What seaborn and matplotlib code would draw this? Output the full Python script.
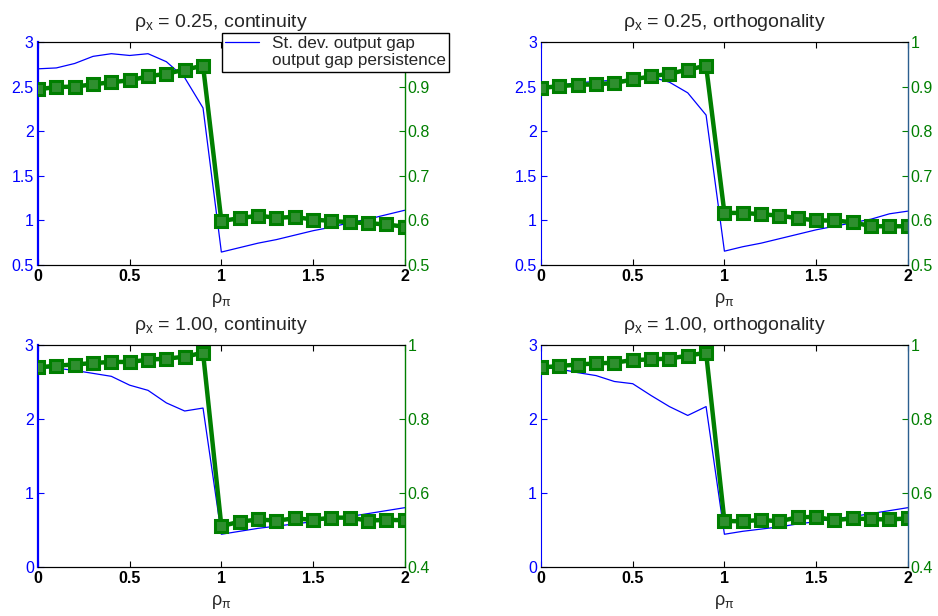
import numpy as np
import matplotlib
matplotlib.use("Agg")
import matplotlib.pyplot as plt
import seaborn as sns
from matplotlib.lines import Line2D

sns.set_style("ticks")
plt.rcParams["font.family"] = ["Liberation Sans", "DejaVu Sans"]
plt.rcParams["mathtext.fontset"] = "custom"
plt.rcParams["mathtext.rm"] = "Liberation Sans"
plt.rcParams["mathtext.it"] = "Liberation Sans"

rho_pi = [0.0, 0.1, 0.2, 0.3, 0.4, 0.5, 0.6, 0.7, 0.8, 0.9, 1.0,
          1.1, 1.2, 1.3, 1.4, 1.5, 1.6, 1.7, 1.8, 1.9, 2.0]

titles = [r"$\rho_x$ = 0.25, continuity", r"$\rho_x$ = 0.25, orthogonality",
          r"$\rho_x$ = 1.00, continuity", r"$\rho_x$ = 1.00, orthogonality"]

# st. dev. of output gap (left axis)
sd_025_cont = [2.70, 2.71, 2.76, 2.84, 2.87, 2.85, 2.87, 2.78, 2.60, 2.26, 0.64,
               0.69, 0.74, 0.78, 0.83, 0.88, 0.92, 0.97, 1.01, 1.06, 1.11]
sd_025_orth = [2.50, 2.52, 2.54, 2.56, 2.57, 2.58, 2.61, 2.55, 2.43, 2.18, 0.65,
               0.70, 0.74, 0.79, 0.84, 0.89, 0.93, 0.97, 1.01, 1.07, 1.10]
sd_100_cont = [2.70, 2.69, 2.66, 2.62, 2.58, 2.46, 2.39, 2.22, 2.11, 2.15, 0.44,
               0.48, 0.52, 0.55, 0.58, 0.61, 0.65, 0.68, 0.72, 0.76, 0.80]
sd_100_orth = [2.70, 2.68, 2.63, 2.59, 2.51, 2.48, 2.32, 2.17, 2.05, 2.17, 0.44,
               0.48, 0.51, 0.54, 0.58, 0.61, 0.65, 0.68, 0.72, 0.76, 0.80]

# output gap persistence (right axis)
pers_025_cont = [0.894, 0.899, 0.900, 0.905, 0.910, 0.914, 0.923, 0.929, 0.938, 0.947, 0.598,
                 0.604, 0.610, 0.605, 0.607, 0.601, 0.598, 0.595, 0.593, 0.590, 0.585]
pers_025_orth = [0.897, 0.901, 0.904, 0.905, 0.908, 0.916, 0.923, 0.929, 0.938, 0.947, 0.616,
                 0.616, 0.613, 0.610, 0.604, 0.599, 0.599, 0.595, 0.586, 0.586, 0.586]
pers_100_cont = [0.940, 0.945, 0.948, 0.952, 0.955, 0.955, 0.961, 0.964, 0.969, 0.980, 0.510,
                 0.522, 0.528, 0.525, 0.531, 0.527, 0.533, 0.533, 0.525, 0.527, 0.526]
pers_100_orth = [0.940, 0.944, 0.948, 0.951, 0.953, 0.960, 0.962, 0.964, 0.972, 0.980, 0.524,
                 0.523, 0.527, 0.523, 0.534, 0.535, 0.526, 0.531, 0.529, 0.528, 0.531]

sd_series = [sd_025_cont, sd_025_orth, sd_100_cont, sd_100_orth]
pers_series = [pers_025_cont, pers_025_orth, pers_100_cont, pers_100_orth]

left_lims = [(0.5, 3), (0.5, 3), (0, 3), (0, 3)]
left_ticks = [[0.5, 1, 1.5, 2, 2.5, 3], [0.5, 1, 1.5, 2, 2.5, 3], [0, 1, 2, 3], [0, 1, 2, 3]]
right_lims = [(0.5, 1), (0.5, 1), (0.4, 1), (0.4, 1)]
right_ticks = [[0.5, 0.6, 0.7, 0.8, 0.9, 1], [0.5, 0.6, 0.7, 0.8, 0.9, 1],
               [0.4, 0.6, 0.8, 1], [0.4, 0.6, 0.8, 1]]
# the top-left "1" sits under the legend box in the original
right_labels = [["0.5", "0.6", "0.7", "0.8", "0.9", ""],
                ["0.5", "0.6", "0.7", "0.8", "0.9", "1"],
                ["0.4", "0.6", "0.8", "1"], ["0.4", "0.6", "0.8", "1"]]

BLUE = "#0000ff"
GREEN = "#007f00"
TICK_FS = 11.5

fig = plt.figure(figsize=(9.38, 6.16), dpi=100)
positions = [[0.0405, 0.5706, 0.391, 0.361], [0.5768, 0.5706, 0.391, 0.361],
             [0.0405, 0.080, 0.391, 0.3594], [0.5768, 0.080, 0.391, 0.3594]]

blue_handle = None
for i in range(4):
    ax = fig.add_axes(positions[i])
    ax2 = ax.twinx()

    sns.lineplot(x=rho_pi, y=sd_series[i], ax=ax, color=BLUE, lw=0.9)
    sns.lineplot(x=rho_pi, y=pers_series[i], ax=ax2, color=GREEN, lw=3.2,
                 marker="s", markersize=8, markerfacecolor="#2f8f2f",
                 markeredgecolor=GREEN, markeredgewidth=2.2)
    if blue_handle is None:
        blue_handle = ax.get_lines()[0]

    ax.set_xlim(0, 2)
    ax.set_xticks([0, 0.5, 1, 1.5, 2])
    ax.set_xticklabels(["0", "0.5", "1", "1.5", "2"], fontweight="bold", fontsize=TICK_FS)
    ax.set_ylim(*left_lims[i])
    ax.set_yticks(left_ticks[i])
    ax.set_yticklabels([f"{t:g}" for t in left_ticks[i]], color=BLUE, fontsize=TICK_FS)
    ax2.set_ylim(*right_lims[i])
    ax2.set_yticks(right_ticks[i])
    ax2.set_yticklabels(right_labels[i], color=GREEN, fontsize=TICK_FS)

    ax.tick_params(axis="x", direction="in", length=4, width=0.8, top=True,
                   pad=3, colors="black")
    ax.tick_params(axis="y", direction="in", length=4, width=0.8, colors=BLUE,
                   right=False, pad=3)
    ax2.tick_params(axis="y", direction="in", length=4, width=0.8, colors=GREEN, pad=2)

    for a in (ax, ax2):
        a.spines["top"].set_color("black")
        a.spines["bottom"].set_color("black")
        a.spines["top"].set_visible(True)
        a.spines["right"].set_visible(True)
    ax.spines["left"].set_color(BLUE)
    ax.spines["left"].set_linewidth(1.6 if i % 2 == 0 else 0.8)
    ax2.spines["left"].set_visible(False)
    ax.spines["right"].set_visible(False)
    ax2.spines["right"].set_color(GREEN if i % 2 == 0 else "#2b5f8f")
    ax2.spines["right"].set_linewidth(1.0)

    ax.set_title(titles[i], fontsize=14, pad=11)
    ax.set_xlabel(r"$\rho_\pi$", fontsize=13, labelpad=5)
    ax.set_ylabel("")
    ax2.set_ylabel("")

empty = Line2D([], [], color="none")
fig.legend([blue_handle, empty], ["St. dev. output gap", "output gap persistence"],
           loc="upper left", bbox_to_anchor=(222 / 938, 1 - 33 / 616),
           borderaxespad=0, fancybox=False, edgecolor="black", framealpha=1,
           fontsize=12.3, handlelength=1.95, borderpad=0.2, labelspacing=0.1,
           handletextpad=0.75)
fig.legends[0].get_frame().set_linewidth(1.0)

plt.savefig("out.png", dpi=100)
